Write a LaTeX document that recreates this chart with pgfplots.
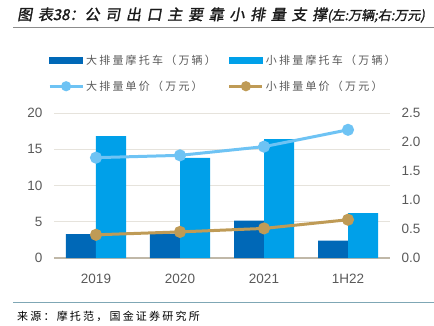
\documentclass[border=0pt]{standalone}
\usepackage{fontspec}
\setmainfont{Liberation Sans}
\newfontfamily\cjk[LetterSpace=20]{Noto Sans CJK SC}
\newfontfamily\titlefont[FakeSlant=0.18,FakeBold=1.5,LetterSpace=38]{Noto Sans CJK SC}
\newfontfamily\titlefontb[FakeSlant=0.18,FakeBold=1.5]{Noto Sans CJK SC}
\usepackage{pgfplots}
\pgfplotsset{compat=1.18}
\definecolor{cbig}{HTML}{0068B7}
\definecolor{csmall}{HTML}{00A0E9}
\definecolor{cline1}{HTML}{6EC3F4}
\definecolor{cline2}{HTML}{BF9B56}
\definecolor{ctick}{HTML}{595959}
\definecolor{cgrid}{HTML}{E6E3DC}
\definecolor{caxis}{HTML}{C0B8A8}
\definecolor{ctitle}{HTML}{1A1A1A}
\definecolor{ctline}{HTML}{8C8C8C}
\definecolor{csline}{HTML}{7FA7B5}
\pgfplotsset{
  barleg/.style={legend image code/.code={\fill[##1] (0pt,-3pt) rectangle (33pt,3pt);}},
  lineleg/.style={legend image code/.code={\draw[mark repeat=2, mark phase=2, ##1, mark size=3.5pt] plot coordinates {(0pt,0pt) (16.5pt,0pt) (33pt,0pt)};}},
}
\begin{document}
\begin{tikzpicture}
\useasboundingbox (0pt,0pt) rectangle (434pt,325pt);
\node[anchor=west, inner sep=0pt, text=ctitle] at (17pt,310pt) {\fontsize{15}{17}\selectfont{\titlefont 图表}{\titlefontb 38：}{\titlefont 公司出口主要靠小排量支撑}{\fontsize{13}{16}\selectfont\titlefontb(左:万辆;右:万元)}};
\draw[ctline, line width=1pt] (13pt,297.3pt) -- (434pt,297.3pt);
\draw[csline, line width=1pt] (13pt,22.5pt) -- (434pt,22.5pt);
\node[anchor=west, inner sep=0pt, text=black] at (17pt,9pt) {\fontsize{11}{13}\selectfont\cjk 来源：摩托范，国金证券研究所};

\begin{axis}[
  at={(54pt,67pt)}, anchor=south west, scale only axis,
  width=336pt, height=145pt,
  xmin=-0.5, xmax=3.5, ymin=0, ymax=20,
  xtick={0,1,2,3}, xticklabels={2019,2020,2021,1H22},
  ytick={0,5,10,15,20},
  ybar=0pt, bar width=30pt,
  axis x line*=bottom, axis y line*=left,
  y axis line style={draw=none},
  x axis line style={draw=caxis, line width=1.5pt},
  tick style={draw=none},
  ymajorgrids, grid style={draw=cgrid, line width=0.8pt},
  /pgf/number format/assume math mode=true,
  ticklabel style={font=\fontsize{13.5}{15}\selectfont, text=ctick},
  yticklabel style={xshift=-8pt},
  xticklabel style={yshift=-8pt},
]
\addplot[fill=cbig, draw=none] coordinates {(0,3.3) (1,3.35) (2,5.15) (3,2.4)};
\addplot[fill=csmall, draw=none] coordinates {(0,16.8) (1,13.8) (2,16.4) (3,6.2)};
\end{axis}

\begin{axis}[
  at={(54pt,67pt)}, anchor=south west, scale only axis,
  width=336pt, height=145pt,
  xmin=-0.5, xmax=3.5, ymin=0, ymax=2.5,
  axis x line=none, axis y line*=right,
  y axis line style={draw=none},
  tick style={draw=none},
  ytick={0,0.5,1,1.5,2,2.5},
  /pgf/number format/.cd, fixed, fixed zerofill, precision=1, assume math mode=true, /pgfplots/.cd,
  ticklabel style={font=\fontsize{13.5}{15}\selectfont, text=ctick},
  yticklabel style={xshift=8pt},
  legend columns=2,
  legend cell align=left,
  legend style={at={(-0.027,1.43)}, anchor=north west, draw=none, fill=none,
    font=\fontsize{11}{13}\selectfont\cjk, text=ctick, row sep=11pt,
    /tikz/every even column/.append style={column sep=10pt}},
]
\addlegendimage{barleg, cbig}
\addlegendentry{大排量摩托车（万辆）}
\addlegendimage{barleg, csmall}
\addlegendentry{小排量摩托车（万辆）}
\addplot[cline1, line width=3pt, mark=*, mark size=4.5pt, mark options={fill=cline1, draw=none}, lineleg]
  coordinates {(0,1.73) (1,1.77) (2,1.92) (3,2.21)};
\addlegendentry{大排量单价（万元）}
\addplot[cline2, line width=3pt, mark=*, mark size=4.5pt, mark options={fill=cline2, draw=none}, lineleg]
  coordinates {(0,0.40) (1,0.45) (2,0.51) (3,0.66)};
\addlegendentry{小排量单价（万元）}
\end{axis}
\end{tikzpicture}
\end{document}
